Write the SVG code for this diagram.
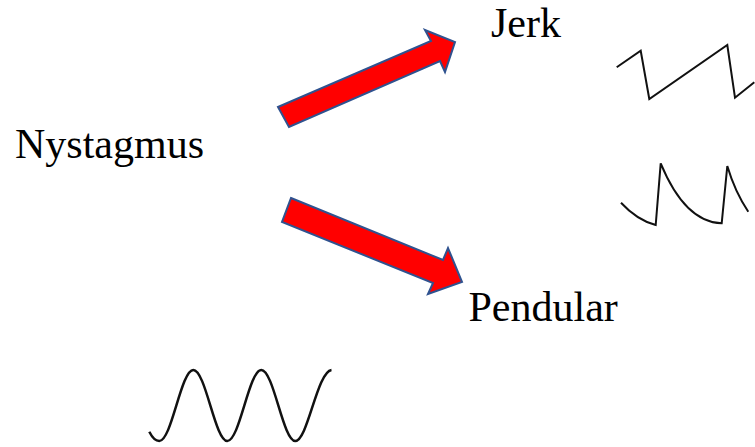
<svg xmlns="http://www.w3.org/2000/svg" width="755" height="447" viewBox="0 0 755 447">
<style>
.lbl{font-family:"Liberation Serif","Times New Roman",serif;font-size:42px;fill:#000}
.arrow{fill:#FF0000;stroke:#2F528F;stroke-width:2;stroke-linejoin:miter}
.wave{fill:none;stroke:#111;stroke-width:2;stroke-linejoin:miter}
</style>
<rect width="755" height="447" fill="#fff"/>
<g id="connectors">
<polygon class="arrow" points="278,107 431,41 425,30 455,42 445,72 440,61 289,127"/>
<polygon class="arrow" points="291,198 443,260 448,248 462,282 428,294 433,283 282,222"/>
</g>
<g id="node-nystagmus"><text class="lbl" x="15" y="157.5">Nystagmus</text></g>
<g id="node-jerk">
<text class="lbl" x="491" y="37">Jerk</text>
<polyline class="wave" points="616.7,67.3 640.7,50.7 649.3,99 727.3,45 735,97.7 754.3,82.3"/>
<path class="wave" d="M621,202.7 Q637,220 655.7,225 L660.7,163.3 Q685,222 721.7,223.3 L727.3,166 Q735,192 748.3,211.7"/>
</g>
<g id="node-pendular">
<text class="lbl" x="468.5" y="320.5">Pendular</text>
<path class="wave" style="stroke-width:2.5" d="M149.3,431.7 C152,437 155,441 159.3,441 C171.7,441 181,370 193.3,370 C205.7,370 215,441 227.3,441 C239.7,441 249,370 261.3,370 C273.7,370 283,441 295.3,441 C307.7,441 317,372 331.5,370"/>
</g>
</svg>
